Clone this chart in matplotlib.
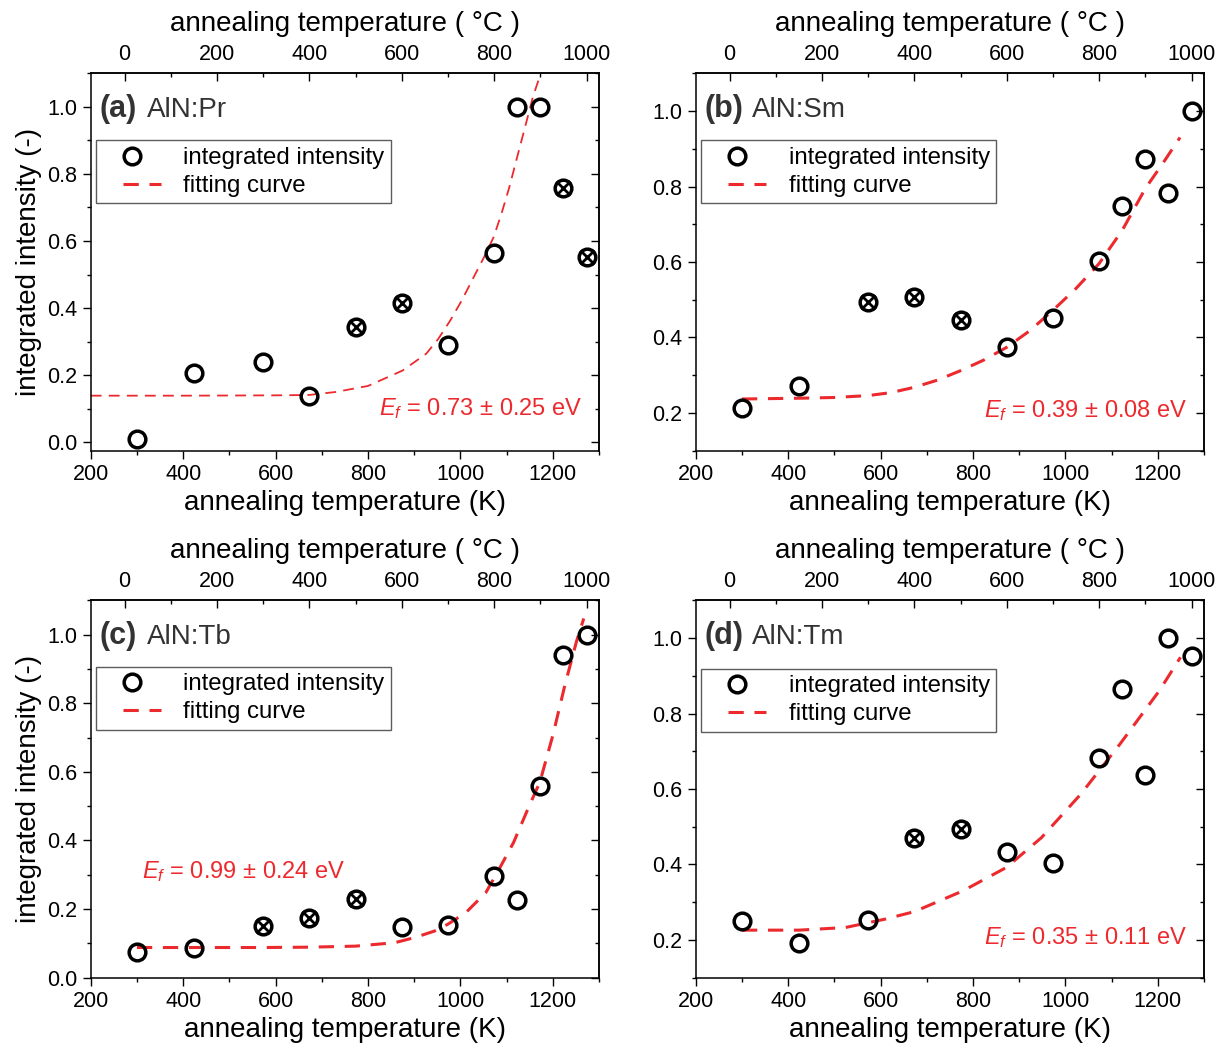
import matplotlib
matplotlib.use("Agg")
import matplotlib.pyplot as plt
from matplotlib.ticker import MultipleLocator, FormatStrFormatter, FixedLocator, NullFormatter
from matplotlib.lines import Line2D
from matplotlib.legend_handler import HandlerLine2D

plt.rcParams['font.family'] = ['Liberation Sans', 'DejaVu Sans']
plt.rcParams['mathtext.fontset'] = 'custom'
plt.rcParams['mathtext.rm'] = 'Liberation Sans'
plt.rcParams['mathtext.it'] = 'Liberation Sans:italic'

# ---------------- data ----------------
temps_K = [300, 423, 573, 673, 773, 873, 973, 1073, 1123, 1173, 1223, 1273]
celsius_major = [0, 200, 400, 600, 800, 1000]
celsius_minor = [100, 300, 500, 700, 900]
kelvin_major = [200, 400, 600, 800, 1000, 1200]
kelvin_minor = [300, 500, 700, 900, 1100, 1300]

pr_int = [0.010, 0.206, 0.239, 0.139, 0.343, 0.416, 0.289, 0.565, 1.000, 1.000, 0.758, 0.552]
pr_excl = [False, False, False, False, True, True, False, False, False, False, True, True]
pr_fit_K = [200, 400, 600, 672, 730, 800, 875, 926, 952, 978, 1003, 1029, 1055, 1072, 1089, 1106, 1123, 1140, 1157, 1174]
pr_fit_I = [0.139, 0.139, 0.140, 0.141, 0.150, 0.168, 0.214, 0.264, 0.308, 0.363, 0.423, 0.493, 0.562, 0.612, 0.682, 0.761, 0.851, 0.940, 1.030, 1.100]

sm_int = [0.213, 0.271, 0.493, 0.508, 0.445, 0.374, 0.452, 0.602, 0.749, 0.873, 0.782, 1.000]
sm_excl = [False, False, True, True, True, False, False, False, False, False, False, False]
sm_fit_K = [300, 423, 500, 573, 623, 673, 723, 773, 823, 873, 923, 973, 1023, 1073, 1123, 1173, 1210, 1248]
sm_fit_I = [0.237, 0.239, 0.241, 0.246, 0.254, 0.268, 0.287, 0.312, 0.340, 0.374, 0.418, 0.472, 0.530, 0.596, 0.684, 0.795, 0.860, 0.930]

tb_int = [0.076, 0.088, 0.151, 0.173, 0.229, 0.149, 0.153, 0.297, 0.227, 0.558, 0.942, 1.000]
tb_excl = [False, False, True, True, True, False, False, False, False, False, False, False]
tb_fit_K = [300, 423, 573, 673, 773, 858, 901, 944, 973, 1012, 1055, 1080, 1115, 1149, 1172, 1200, 1226, 1251, 1267]
tb_fit_I = [0.088, 0.088, 0.088, 0.089, 0.092, 0.102, 0.117, 0.136, 0.156, 0.190, 0.248, 0.307, 0.394, 0.501, 0.570, 0.706, 0.852, 0.979, 1.047]

tm_int = [0.249, 0.191, 0.253, 0.469, 0.494, 0.434, 0.405, 0.681, 0.866, 0.638, 1.000, 0.952]
tm_excl = [False, False, False, True, True, False, False, False, False, False, False, False]
tm_fit_K = [300, 423, 524, 609, 673, 694, 778, 872, 948, 1033, 1118, 1203, 1249]
tm_fit_I = [0.226, 0.226, 0.233, 0.255, 0.275, 0.286, 0.330, 0.392, 0.471, 0.586, 0.719, 0.860, 0.949]

panel_tags = ['(a)', '(b)', '(c)', '(d)']
panel_names = ['AlN:Pr', 'AlN:Sm', 'AlN:Tb', 'AlN:Tm']
ef_texts = ['0.73 ± 0.25 eV', '0.39 ± 0.08 eV', '0.99 ± 0.24 eV', '0.35 ± 0.11 eV']
ylims = [(-0.025, 1.1), (0.1, 1.1), (0.0, 1.1), (0.1, 1.1)]

RED = '#ec2a2e'
DARK = '#333333'


class PartialHandler(HandlerLine2D):
    """Place the legend line / marker in a sub-range of the handle box."""
    def __init__(self, line_frac=(0.0, 1.0), marker_frac=0.5, **kw):
        super().__init__(**kw)
        self.line_frac = line_frac
        self.marker_frac = marker_frac

    def get_xdata(self, legend, xdescent, ydescent, width, height, fontsize):
        x0 = -xdescent
        xd = [x0 + self.line_frac[0] * width, x0 + self.line_frac[1] * width]
        xm = [x0 + self.marker_frac * width]
        return xd, xm


fig = plt.figure(figsize=(12.26, 10.44), dpi=100)
positions = [
    [0.0740, 0.5683, 0.4146, 0.3615],
    [0.5675, 0.5683, 0.4146, 0.3615],
    [0.0740, 0.0635, 0.4146, 0.3615],
    [0.5675, 0.0635, 0.4146, 0.3615],
]
datasets = [
    (pr_int, pr_excl, pr_fit_K, pr_fit_I),
    (sm_int, sm_excl, sm_fit_K, sm_fit_I),
    (tb_int, tb_excl, tb_fit_K, tb_fit_I),
    (tm_int, tm_excl, tm_fit_K, tm_fit_I),
]
fit_styles = [
    dict(lw=1.3, dashes=(6, 4)),
    dict(lw=2.2, dashes=(5, 3.5)),
    dict(lw=2.2, dashes=(5, 3.5)),
    dict(lw=2.2, dashes=(5, 3.5)),
]
ef_pos = [
    (0.968, 0.095, 'right'),
    (0.968, 0.090, 'right'),
    (0.101, 0.265, 'left'),
    (0.968, 0.090, 'right'),
]
leg_tops = [0.822, 0.822, 0.824, 0.818]

for i in range(4):
    ax = fig.add_axes(positions[i])
    inten, excl, fk, fi = datasets[i]
    ax.plot(fk, fi, color=RED, linestyle='--', zorder=2, **fit_styles[i])
    ax.plot(temps_K, inten, linestyle='none', marker='o', markersize=12,
            markerfacecolor='none', markeredgecolor='black', markeredgewidth=2.5, zorder=3)
    xk = [t for t, e in zip(temps_K, excl) if e]
    xi = [v for v, e in zip(inten, excl) if e]
    ax.plot(xk, xi, linestyle='none', marker='x', markersize=10,
            markeredgecolor='black', markeredgewidth=2.0, zorder=4)

    ax.set_xlim(200, 1300)
    ax.set_ylim(*ylims[i])
    ax.xaxis.set_major_locator(FixedLocator(kelvin_major))
    ax.xaxis.set_minor_locator(FixedLocator(kelvin_minor))
    ax.yaxis.set_major_locator(MultipleLocator(0.2))
    ax.yaxis.set_minor_locator(MultipleLocator(0.1))
    ax.yaxis.set_major_formatter(FormatStrFormatter('%.1f'))
    ax.tick_params(axis='both', which='major', direction='out', length=5.5, width=1,
                   labelsize=15.5, pad=4, top=False, right=False)
    ax.tick_params(axis='both', which='minor', direction='out', length=3, width=1,
                   top=False, right=False)
    for sp in ax.spines.values():
        sp.set_linewidth(1.1)

    ax.set_xlabel('annealing temperature (K)', fontsize=20, labelpad=3.5)
    if i in (0, 2):
        ax.set_ylabel('integrated intensity (-)', fontsize=20, labelpad=4)

    # top axis in degrees Celsius
    top = ax.secondary_xaxis('top', functions=(lambda k: k - 273.15, lambda c: c + 273.15))
    top.xaxis.set_major_locator(FixedLocator(celsius_major))
    top.xaxis.set_minor_locator(FixedLocator(celsius_minor))
    top.tick_params(axis='x', which='major', direction='in', length=5.5, width=1,
                    labelsize=15.5, pad=6)
    top.tick_params(axis='x', which='minor', direction='in', length=3, width=1)
    top.set_xlabel('annealing temperature ( °C )', fontsize=20, labelpad=9)
    top.spines['top'].set_linewidth(1.1)

    # right axis ticks pointing inward
    right = ax.secondary_yaxis('right')
    right.yaxis.set_major_locator(MultipleLocator(0.2))
    right.yaxis.set_minor_locator(MultipleLocator(0.1))
    right.yaxis.set_major_formatter(NullFormatter())
    right.tick_params(axis='y', which='major', direction='in', length=5.5, width=1, labelright=False)
    right.tick_params(axis='y', which='minor', direction='in', length=3, width=1, labelright=False)
    right.spines['right'].set_linewidth(1.1)

    # panel label
    ax.text(0.018, 0.884, panel_tags[i], transform=ax.transAxes, fontsize=22,
            fontweight='bold', color=DARK, ha='left', va='baseline')
    ax.text(0.1108, 0.884, panel_names[i], transform=ax.transAxes, fontsize=20,
            color=DARK, ha='left', va='baseline')

    # activation energy
    ex, ey, eha = ef_pos[i]
    ax.text(ex, ey, r'$E_f$ = ' + ef_texts[i], transform=ax.transAxes, fontsize=17,
            color=RED, ha=eha, va='baseline')

    # legend
    h1 = Line2D([], [], linestyle='none', marker='o', markersize=12, markerfacecolor='none',
                markeredgecolor='black', markeredgewidth=2.5)
    h2 = Line2D([], [], color=RED, linestyle='--', lw=2.2, dashes=(5, 3.5))
    leg = ax.legend([h1, h2], ['integrated intensity', 'fitting curve'],
                    loc='upper left', bbox_to_anchor=(0.0104, leg_tops[i]), fontsize=17.3,
                    frameon=True, fancybox=False, borderpad=0.27, labelspacing=0.25,
                    handlelength=2.47, handletextpad=0.9, borderaxespad=0.0,
                    handler_map={h1: PartialHandler(marker_frac=0.81),
                                 h2: PartialHandler(line_frac=(0.35, 0.98))})
    leg.get_frame().set_edgecolor(DARK)
    leg.get_frame().set_linewidth(1.0)

fig.savefig('out.png', dpi=100)
